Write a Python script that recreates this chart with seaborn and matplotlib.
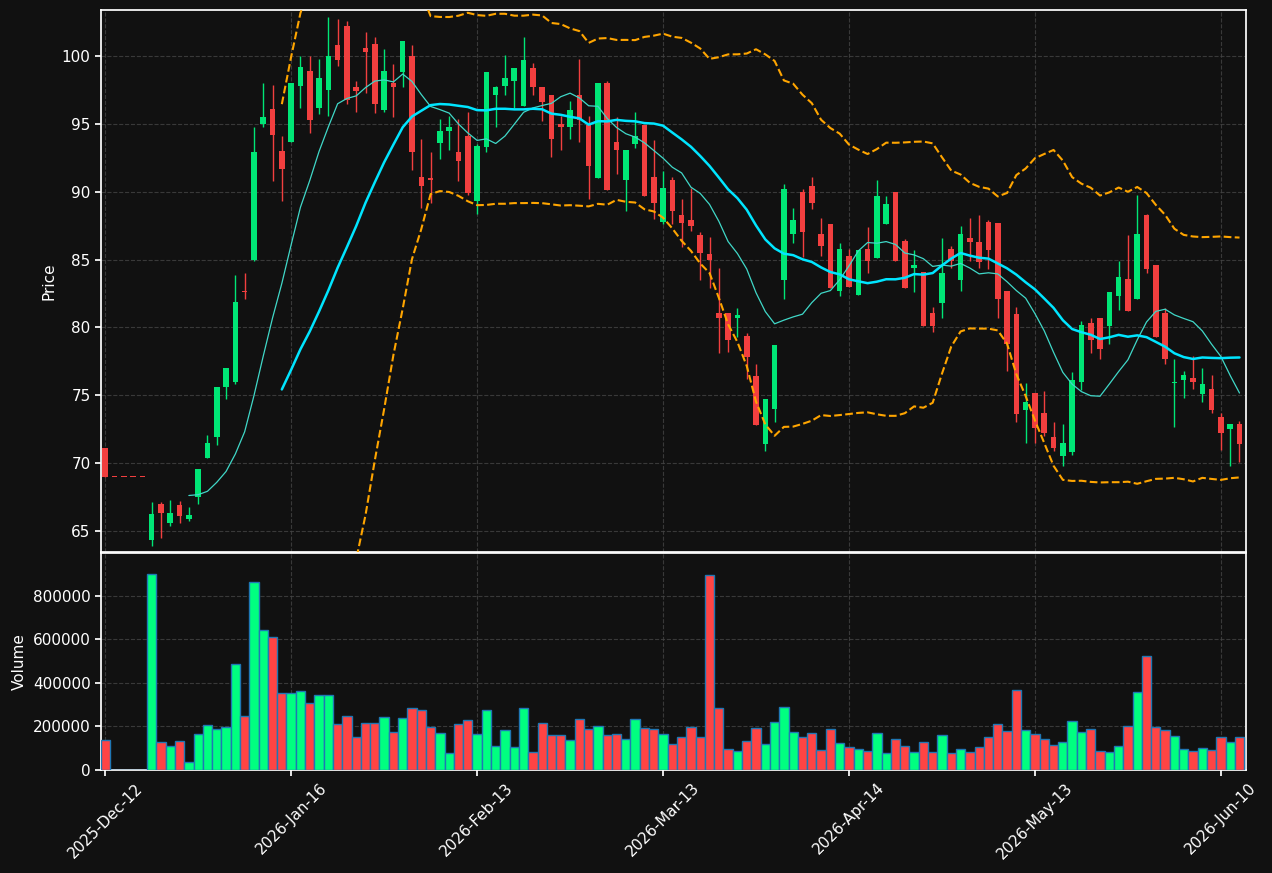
import numpy as np
import pandas as pd
import matplotlib
matplotlib.use("Agg")
import matplotlib.pyplot as plt
import seaborn as sns

opens = [71.1,69.0,69.0,69.0,69.0,64.3,67.0,65.6,66.9,65.9,67.5,70.4,71.9,75.6,76.0,82.7,85.0,95.0,96.1,93.0,
         93.7,97.8,98.9,96.2,97.5,100.8,102.2,97.7,100.6,100.9,96.0,98.0,98.8,100.0,91.1,91.05,93.6,94.5,92.9,94.1,
         89.3,93.3,97.1,97.8,98.2,96.3,99.1,97.7,97.1,95.0,94.8,97.1,94.9,91.0,98.0,93.7,90.9,93.5,94.9,91.1,
         87.8,90.9,88.3,87.9,86.8,85.4,81.1,81.1,80.7,79.4,76.4,71.4,74.0,83.5,86.9,90.0,90.4,86.9,87.6,82.7,
         85.3,82.4,85.8,85.1,87.6,90.0,86.4,84.4,84.1,81.1,81.8,85.8,83.5,86.6,86.3,87.8,87.7,82.7,81.0,73.9,
         75.2,73.7,71.9,70.5,70.8,76.0,80.3,80.7,80.1,82.3,83.6,82.1,88.3,84.6,81.1,75.9,76.1,76.3,75.1,75.5,
         73.4,72.5,72.9]
closes = [69.0,69.0,69.0,69.0,69.0,66.25,66.3,66.3,66.1,66.2,69.6,71.5,75.6,77.0,81.9,82.6,92.9,95.5,94.2,91.7,
          98.0,99.2,95.3,98.4,100.0,99.7,96.8,97.4,100.3,96.5,98.9,97.7,101.1,92.9,90.4,90.9,94.5,94.8,92.3,89.9,
          93.4,98.8,97.7,98.4,99.1,99.7,97.7,96.6,93.9,94.8,96.0,95.3,91.9,98.0,90.1,93.1,93.1,94.1,89.7,89.2,
          90.3,88.6,87.7,87.5,85.5,85.0,80.7,79.1,80.9,77.8,72.8,74.7,78.7,90.2,87.9,87.0,89.2,86.0,82.9,85.8,
          83.0,85.7,84.9,89.7,89.1,84.9,82.9,84.6,80.1,80.1,84.0,84.9,86.9,86.3,84.8,85.7,82.1,78.8,73.6,74.5,
          72.6,72.2,71.1,71.5,76.1,80.2,79.1,78.4,82.6,83.7,81.25,86.9,84.3,79.3,77.7,76.0,76.5,76.0,75.8,73.9,
          72.2,72.9,71.4]
highs = [71.1,69.0,69.0,69.0,69.0,67.1,67.1,67.3,67.2,66.8,69.6,72.1,75.6,77.0,83.9,84.0,94.8,98.0,97.9,94.1,
         98.0,100.0,100.0,99.8,102.9,102.7,102.6,98.2,101.8,101.4,100.5,99.4,101.1,100.8,93.9,92.9,95.4,95.6,95.4,95.9,
         93.5,98.8,97.8,100.05,99.1,101.4,99.5,97.7,97.1,95.6,96.7,99.8,95.6,98.0,98.2,95.5,93.1,95.9,94.9,93.8,
         91.5,91.1,89.5,90.3,87.0,86.7,84.4,81.1,81.4,79.6,77.3,74.7,78.7,90.6,88.8,90.2,91.1,88.1,87.6,86.2,
         85.8,85.7,87.4,90.9,89.7,90.0,86.5,85.7,84.1,81.5,86.6,86.0,87.5,88.1,88.3,87.9,87.7,82.7,81.5,75.9,
         75.2,75.3,73.0,72.9,76.7,80.5,80.7,80.7,82.6,84.9,86.8,89.8,88.4,84.6,81.4,77.7,76.8,77.9,77.0,76.5,
         73.7,72.9,73.1]
lows = [69.0,69.0,69.0,69.0,69.0,63.9,64.5,65.4,65.6,65.7,67.0,70.4,71.3,74.7,75.8,82.1,84.9,94.8,90.8,89.3,
        93.7,96.2,94.3,95.7,95.6,99.3,96.5,95.9,97.3,95.8,95.9,95.5,97.7,91.6,88.8,89.2,92.4,93.1,90.8,89.8,
        88.4,92.9,94.8,97.1,96.2,96.3,97.1,95.2,92.6,93.1,93.9,93.7,89.5,91.0,90.1,91.3,88.6,93.2,89.7,88.0,
        87.6,87.6,85.9,87.1,83.5,82.9,78.1,78.2,79.3,76.2,72.8,70.9,73.0,82.1,86.2,85.2,88.7,85.3,82.9,82.3,
        83.0,82.4,84.0,85.1,87.6,84.9,82.9,82.6,80.1,79.7,80.7,84.4,82.7,84.9,84.4,84.3,80.7,76.8,73.0,71.5,
        71.5,72.0,70.9,69.8,70.6,75.4,78.1,77.7,78.8,81.3,81.25,82.1,84.0,79.3,77.3,72.7,74.8,75.5,74.5,73.7,
        71.0,69.8,70.1]
volumes = [136e3,0,0,0,0,901e3,127e3,108e3,131e3,35e3,163e3,205e3,189e3,195e3,484e3,246e3,864e3,644e3,608e3,354e3,
           354e3,360e3,305e3,342e3,342e3,209e3,246e3,150e3,214e3,214e3,241e3,173e3,237e3,282e3,273e3,195e3,168e3,76e3,209e3,228e3,
           163e3,273e3,108e3,182e3,104e3,282e3,81e3,214e3,159e3,159e3,136e3,232e3,186e3,200e3,159e3,163e3,140e3,232e3,191e3,186e3,
           163e3,118e3,150e3,195e3,150e3,892e3,282e3,95e3,86e3,131e3,191e3,118e3,218e3,287e3,173e3,150e3,168e3,90e3,186e3,122e3,
           104e3,95e3,86e3,168e3,76e3,140e3,108e3,81e3,127e3,81e3,159e3,76e3,95e3,81e3,104e3,150e3,209e3,177e3,365e3,182e3,
           163e3,140e3,113e3,127e3,223e3,173e3,186e3,86e3,81e3,108e3,200e3,356e3,521e3,195e3,182e3,154e3,95e3,86e3,99e3,90e3,
           150e3,127e3,150e3]
tick_pos = [0, 20, 40, 60, 80, 100, 120]
tick_labels = ["2025-Dec-12", "2026-Jan-16", "2026-Feb-13", "2026-Mar-13",
               "2026-Apr-14", "2026-May-13", "2026-Jun-10"]

df = pd.DataFrame({"o": opens, "h": highs, "l": lows, "c": closes, "v": volumes})
df["x"] = np.arange(len(df))
df["ma10"] = df["c"].rolling(10).mean()
df["ma20"] = df["c"].rolling(20).mean()
sd = df["c"].rolling(20).std()
df["up"] = df["ma20"] + 2 * sd
df["lo"] = df["ma20"] - 2 * sd

BG = "#111111"
sns.set_theme(style="dark", rc={"axes.facecolor": BG, "figure.facecolor": BG,
                                "text.color": "white", "axes.labelcolor": "white",
                                "xtick.color": "white", "ytick.color": "white",
                                "axes.edgecolor": "white"})
plt.rcParams["font.family"] = ["DejaVu Sans"]

fig = plt.figure(figsize=(12.72, 8.73), dpi=100)
ax = fig.add_axes([101/1272, 1-552/873, 1145/1272, 542/873])
axv = fig.add_axes([101/1272, 1-770/873, 1145/1272, 217/873], sharex=ax)

GREEN, RED = "#00e676", "#f23f3f"
upmask = df["c"] > df["o"]
cols = np.where(upmask, GREEN, RED)
ax.vlines(df["x"], df["l"], df["h"], colors=cols, linewidth=1, zorder=2)
body = (df["c"] - df["o"]).abs().clip(lower=0.08)
bottom = np.minimum(df["o"], df["c"])
ax.bar(df["x"], body, bottom=bottom, width=0.6, color=cols, edgecolor=cols, linewidth=0, zorder=3)

sns.lineplot(x=df["x"], y=df["ma10"], ax=ax, color="#40d8c8", linewidth=0.9, zorder=4)
sns.lineplot(x=df["x"], y=df["ma20"], ax=ax, color="#00e5ff", linewidth=1.8, zorder=4)
sns.lineplot(x=df["x"], y=df["up"], ax=ax, color="#ffa500", linewidth=1.5, linestyle="--", zorder=4)
sns.lineplot(x=df["x"], y=df["lo"], ax=ax, color="#ffa500", linewidth=1.5, linestyle="--", zorder=4)

ax.set_xlim(-0.45, 122.7)
ax.set_ylim(63.45, 103.4)
ax.set_ylabel("Price", fontsize=11)
ax.set_xlabel("")
ax.grid(True, color="#444444", linestyle="--", linewidth=0.8, alpha=0.8)
ax.tick_params(axis="x", labelbottom=False, bottom=False)
ax.tick_params(axis="y", left=True, length=4, labelsize=11)

vcols = np.where(upmask, "#00ff80", "#ff4444")
axv.bar(df["x"], df["v"], width=1.0, color=vcols, edgecolor="#1f77b4", linewidth=1, zorder=3)
axv.set_ylim(0, 995000)
axv.set_ylabel("Volume", fontsize=11)
axv.grid(True, color="#444444", linestyle="--", linewidth=0.8, alpha=0.8)
axv.set_xticks(tick_pos)
axv.set_xticklabels(tick_labels, rotation=45)
axv.tick_params(axis="both", bottom=True, left=True, length=4, labelsize=11)
axv.ticklabel_format(axis="y", style="plain")
for a in (ax, axv):
    for s in a.spines.values():
        s.set_color("white")

fig.savefig("out.png", dpi=100, facecolor=BG)
